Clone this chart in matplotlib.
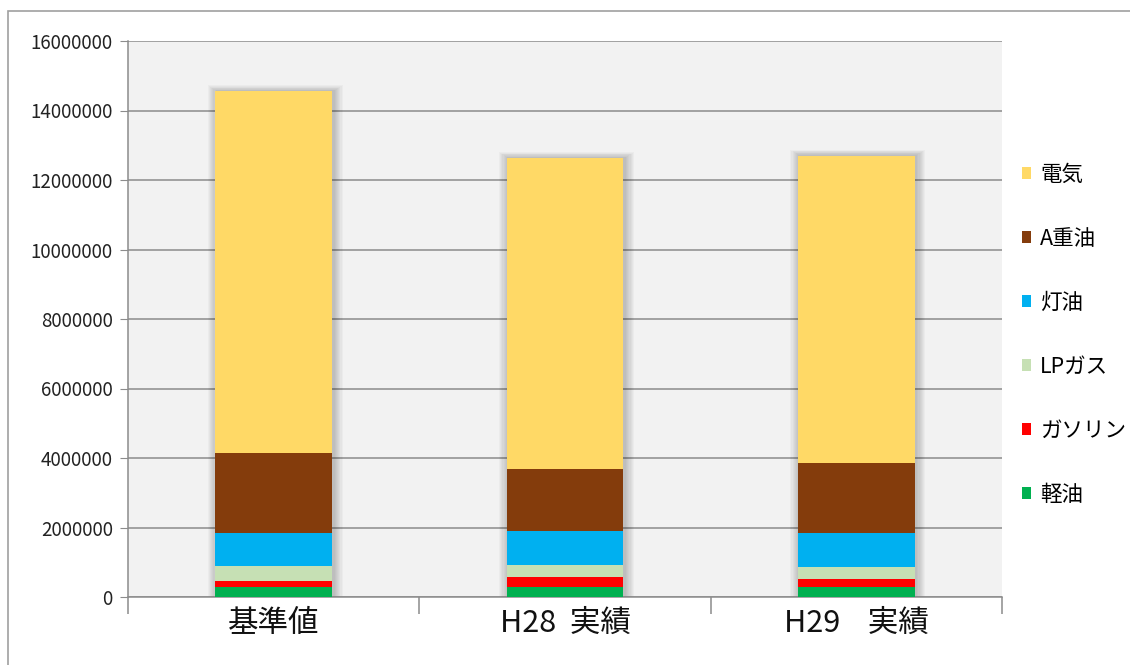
import matplotlib.pyplot as plt
from matplotlib.patches import Rectangle
import numpy as np

plt.rcParams['font.family'] = ['Noto Sans CJK JP', 'DejaVu Sans']

categories = ['基準値', 'H28  実績', 'H29    実績']
series = ['軽油', 'ガソリン', 'LPガス', '灯油', 'A重油', '電気']
keiyu = [280000, 290000, 280000]
gasoline = [180000, 280000, 250000]
lpgas = [440000, 345000, 330000]
touyu = [940000, 990000, 985000]
a_juyu = [2290000, 1770000, 2000000]
denki = [10430000, 8960000, 8860000]
colors = ['#00B050', '#FF0000', '#C6E0B4', '#00B0F0', '#843C0C', '#FFD966']
yticks = list(range(0, 16000001, 2000000))

values = [keiyu, gasoline, lpgas, touyu, a_juyu, denki]

fig = plt.figure(figsize=(11.3, 6.65), dpi=100)
fig.patches.append(Rectangle((8 / 1130, -0.1), 1.2, 1 - 11 / 665 + 0.1,
                             transform=fig.transFigure, fill=False,
                             edgecolor='#A0A0A0', linewidth=1.2))
ax = fig.add_axes([128 / 1130, 1 - 597 / 665, 874 / 1130, 556 / 665])
ax.set_facecolor('#F2F2F2')

x = np.arange(len(categories))
width = 0.4
totals = np.sum(values, axis=0)

# soft shadow behind the stacks
for i in range(8):
    pad = 0.004 * (i + 1)
    ax.bar(x + 0.005, totals + 50000 * (i + 1), width=width + 2 * pad,
           bottom=-30000 * (i + 1),
           color='black', alpha=0.028, linewidth=0, zorder=2)

bottom = np.zeros(len(categories))
for name, vals, c in zip(series, values, colors):
    ax.bar(x, vals, width=width, bottom=bottom, color=c, label=name,
           linewidth=0, zorder=3)
    bottom = bottom + np.array(vals)

ax.set_xlim(-0.5, 2.5)
ax.set_ylim(0, 16000000)
ax.set_yticks(yticks)
ax.set_yticklabels([str(v) for v in yticks], fontsize=13.5, color='#222222')
ax.yaxis.grid(True, color='#8C8C8C', linewidth=1.1, zorder=1)
ax.set_axisbelow(True)
ax.tick_params(axis='y', length=6, color='#8C8C8C', pad=5)

ax.set_xticks(x)
ax.set_xticklabels(categories, fontsize=22, color='#111111')
ax.tick_params(axis='x', length=0, pad=8)
ax.set_xticks([-0.5, 0.5, 1.5, 2.5], minor=True)
ax.tick_params(axis='x', which='minor', length=12, color='#8C8C8C', width=1.1)

for s in ['top', 'right']:
    ax.spines[s].set_visible(False)
ax.spines['left'].set_color('#8C8C8C')
ax.spines['bottom'].set_color('#8C8C8C')
ax.spines['left'].set_linewidth(1.1)
ax.spines['bottom'].set_linewidth(1.1)

handles, labels = ax.get_legend_handles_labels()
leg = fig.legend(handles[::-1], labels[::-1], loc='upper left',
                 bbox_to_anchor=(1013 / 1130, 1 - 155 / 665),
                 frameon=False, fontsize=15.5, handlelength=0.45, handleheight=0.45,
                 handletextpad=0.4, labelspacing=1.95, borderaxespad=0)

fig.savefig('out.png', dpi=100)
